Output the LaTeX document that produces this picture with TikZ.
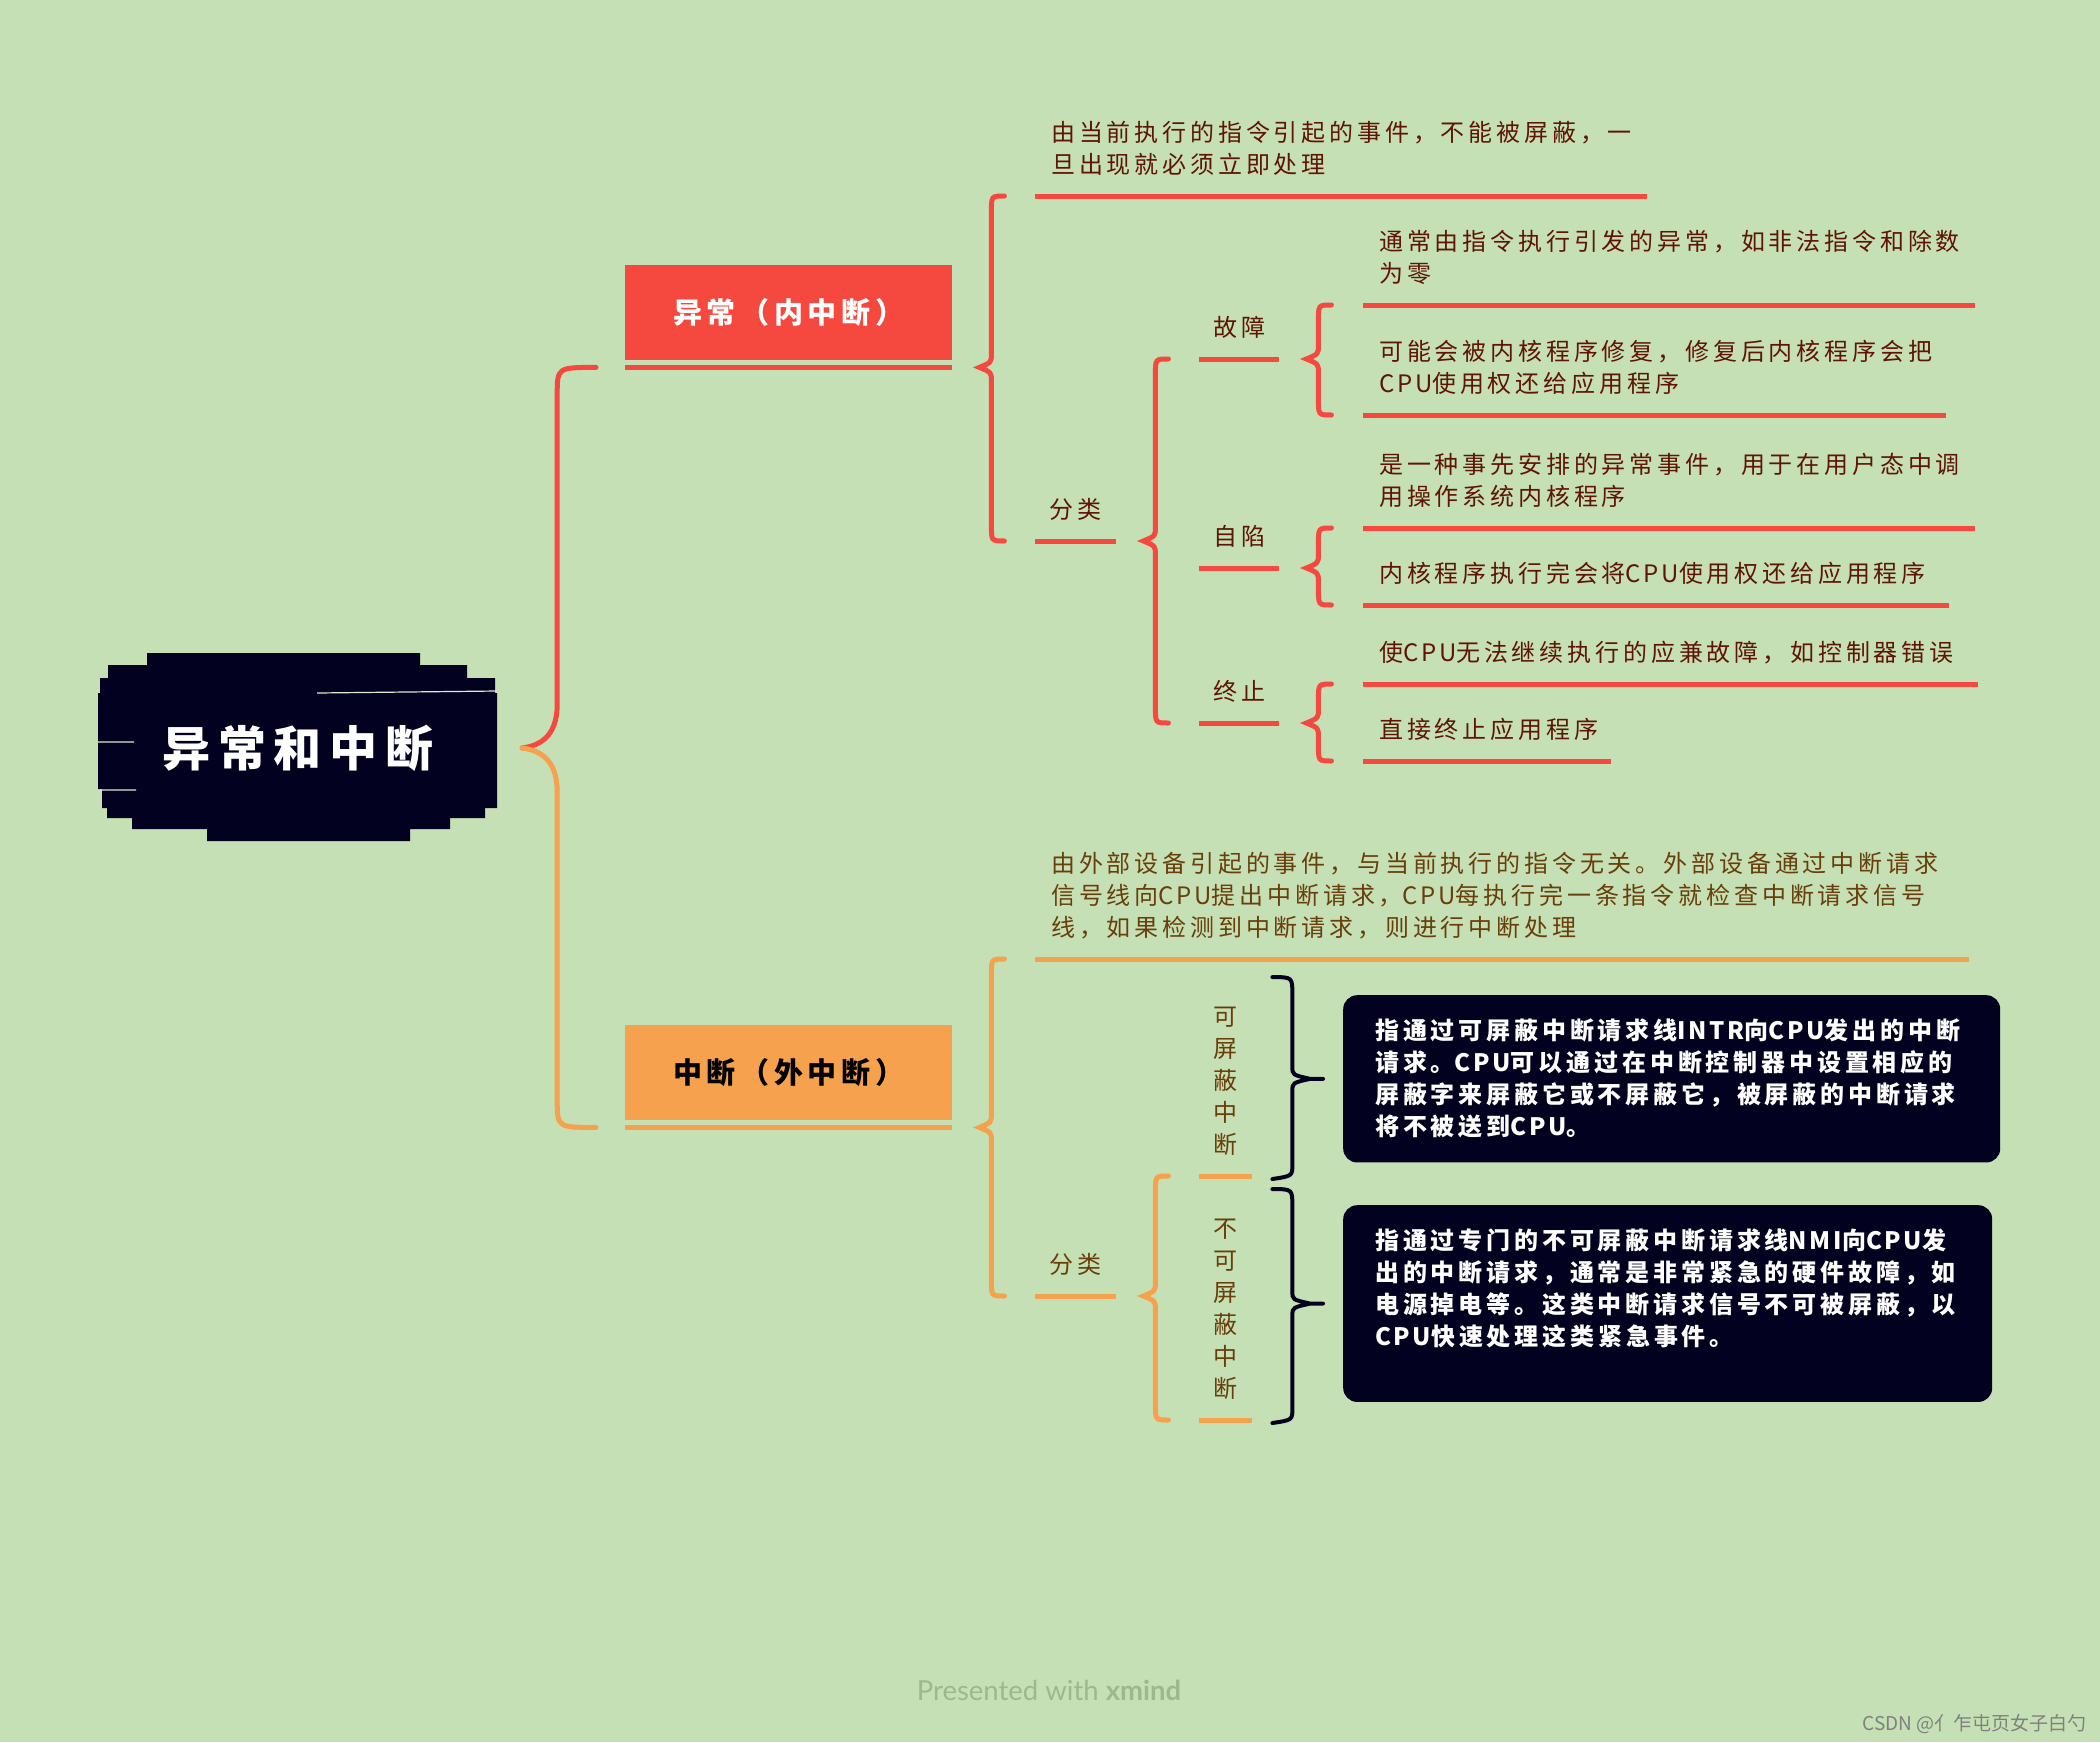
\documentclass[tikz,border=0pt]{standalone}
\usepackage{fontspec}
\usepackage{tikz}
\usetikzlibrary{calc}

\newfontfamily\cjkplain{Noto Sans CJK SC}
\newfontfamily\cjkspaced[LetterSpace=16]{Noto Sans CJK SC}
\newfontfamily\cjklatin[LetterSpace=11]{Noto Sans CJK SC}
\newfontfamily\latofont{Lato}

\definecolor{bgc}{RGB}{197,224,180}
\definecolor{exred}{RGB}{245,72,62}
\definecolor{intorg}{RGB}{245,161,78}
\definecolor{navy}{RGB}{2,2,32}
\definecolor{redtext}{RGB}{95,20,5}
\definecolor{orgtext}{RGB}{105,62,10}
\definecolor{footc}{RGB}{158,184,142}

\newcommand{\descfont}{\cjkspaced\fontsize{24}{32}\selectfont}
\newcommand{\lat}[1]{{\cjklatin #1}}

% left brace from a parent underline end to its first and last child
\newcommand{\topicbrace}[4]{%
  \draw[#1] let \p1=($(#2)+(27,0)$), \p2=(#3.south west), \p3=(#4.south west),
      \n1={\x1+12pt}, \n2={\x1+25pt} in
    (\n2,\y2) .. controls (\n1,\y2) .. (\n1,\y2-16pt)
    -- (\n1,\y1+14pt) .. controls (\n1,\y1+5pt) .. (\p1)
    .. controls (\n1,\y1-5pt) .. (\n1,\y1-14pt)
    -- (\n1,\y3+16pt) .. controls (\n1,\y3) .. (\n2,\y3);}

% right brace from a vertical tag to its box
\newcommand{\boxbrace}[2]{%
  \draw[navline] let \p1=(#1.south east), \p2=(#1.north east), \p3=(#2.west),
      \n1={\x1+20pt}, \n2={\x1+40pt}, \n3={\x3-33pt} in
    (\n1,\y2+10pt) .. controls (\n2,\y2+10pt) .. (\n2,\y2-8pt)
    -- (\n2,\y3+12pt) .. controls (\n2,\y3+4pt) .. (\n3,\y3) -- (\x3-20pt,\y3)
    (\n3,\y3) .. controls (\n2,\y3-4pt) .. (\n2,\y3-12pt)
    -- (\n2,\y1+12pt) .. controls (\n2,\y1) .. (\n1,\y1-3pt);}

\tikzset{
  redline/.style={line width=5pt, draw=exred, line cap=round},
  orgline/.style={line width=5pt, draw=intorg, line cap=round},
  navline/.style={line width=4pt, draw=navy, line cap=round},
  ulred/.style={line width=5pt, draw=exred},
  ulorg/.style={line width=5pt, draw=intorg},
  maintopic/.style={anchor=north west, minimum width=327pt, minimum height=95pt,
    inner sep=0pt, font=\cjkspaced\bfseries\fontsize{29}{34}\selectfont},
  topic/.style={anchor=south west, text width=#1, inner xsep=16pt, inner ysep=20pt,
    align=left, font=\descfont},
  tag/.style={anchor=south west, minimum width=#1, inner xsep=0pt, inner ysep=20pt,
    align=center, font=\descfont},
  darkbox/.style={anchor=north west, text width=#1, fill=navy, rounded corners=14pt,
    inner xsep=32pt, inner ysep=24pt, align=left, text=white,
    font=\cjkspaced\bfseries\fontsize{24}{32}\selectfont},
}

\begin{document}
\begin{tikzpicture}[x=1pt, y=-1pt]
% canvas
\fill[bgc] (0,0) rectangle (2100,1742);
\useasboundingbox (0,0) rectangle (2100,1742);

% root
\fill[navy] (147,653) rectangle (420,667)
  (108,665) rectangle (467,680)
  (100,678) rectangle (495,695)
  (98,693) rectangle (497,789)
  (102,787) rectangle (497,808)
  (107,806) rectangle (485,818)
  (132,816) rectangle (450,829)
  (207,827) rectangle (410,841);
\draw[bgc!60!white, line width=1.2pt] (317,693) -- (497,691) (98,742) -- (134,742) (100,790) -- (136,790);
\node[font=\cjkspaced\bfseries\fontsize{48}{56}\selectfont, text=white,
  minimum width=400pt] (root) at (298,748) {异常和中断};

% main topics
\node[maintopic, fill=exred, text=white] (exc) at (625,265) {异常（内中断）};
\node[maintopic, fill=intorg, text=black] (irq) at (625,1025) {中断（外中断）};
\coordinate (exc-ul) at ($(exc.south east)+(0,7)$);
\coordinate (irq-ul) at ($(irq.south east)+(0,7)$);
\draw[ulred] ($(exc.south west)+(0,7)$) -- (exc-ul);
\draw[ulorg] ($(irq.south west)+(0,7)$) -- (irq-ul);

\draw[redline] let \p1=($(root.east)+(24,0)$), \p2=($(exc.south west)+(-29,7)$),
    \n1={\x1+35pt} in
  (\p1) .. controls (\x1+24pt,\y1+3pt) and (\n1,\y1+18pt) .. (\n1,\y1+44pt)
  -- (\n1,\y2-28pt) .. controls (\n1,\y2) .. (\p2);
\draw[orgline] let \p1=($(root.east)+(24,0)$), \p2=($(irq.south west)+(-29,7)$),
    \n1={\x1+35pt} in
  (\p1) .. controls (\x1+24pt,\y1-3pt) and (\n1,\y1-18pt) .. (\n1,\y1-44pt)
  -- (\n1,\y2+28pt) .. controls (\n1,\y2) .. (\p2);

% exception branch
\begin{scope}[nodes={text=redtext}]
\node[topic=580pt] (d1) at (1035,196) {由当前执行的指令引起的事件，不能被屏蔽，一\\旦出现就必须立即处理};
\node[tag=81pt] (cls1) at (1035,541) {分类};
\node[tag=80pt] (t1) at (1199,359) {故障};
\node[tag=80pt] (t2) at (1199,568) {自陷};
\node[tag=80pt] (t3) at (1199,723) {终止};
\node[topic=580pt] (c1) at (1363,305) {通常由指令执行引发的异常，如非法指令和除数\\为零};
\node[topic=551pt] (c2) at (1363,415) {可能会被内核程序修复，修复后内核程序会把\\\lat{CPU}使用权还给应用程序};
\node[topic=580pt] (c3) at (1363,528) {是一种事先安排的异常事件，用于在用户态中调\\用操作系统内核程序};
\node[topic=554pt] (c4) at (1363,605) {内核程序执行完会将\lat{CPU}使用权还给应用程序};
\node[topic=583pt] (c5) at (1363,684) {使\lat{CPU}无法继续执行的应兼故障，如控制器错误};
\node[topic=216pt] (c6) at (1363,761) {直接终止应用程序};
\end{scope}
\foreach \n in {d1,cls1,t1,t2,t3,c1,c2,c3,c4,c5,c6}
  \draw[ulred] (\n.south west) -- (\n.south east);

\topicbrace{redline}{exc-ul}{d1}{cls1}
\topicbrace{redline}{cls1.south east}{t1}{t3}
\topicbrace{redline}{t1.south east}{c1}{c2}
\topicbrace{redline}{t2.south east}{c3}{c4}
\topicbrace{redline}{t3.south east}{c5}{c6}

% interrupt branch
\begin{scope}[nodes={text=orgtext}]
\node[topic=902pt] (d2) at (1035,959) {由外部设备引起的事件，与当前执行的指令无关。外部设备通过中断请求\\信号线向\lat{CPU}提出中断请求，\lat{CPU}每执行完一条指令就检查中断请求信号\\线，如果检测到中断请求，则进行中断处理};
\node[tag=81pt] (cls2) at (1035,1296) {分类};
\node[tag=53pt] (v1) at (1199,1176) {可\\屏\\蔽\\中\\断};
\node[tag=53pt] (v2) at (1199,1420) {不\\可\\屏\\蔽\\中\\断};
\end{scope}
\foreach \n in {d2,cls2,v1,v2}
  \draw[ulorg] (\n.south west) -- (\n.south east);

\topicbrace{orgline}{irq-ul}{d2}{cls2}
\topicbrace{orgline}{cls2.south east}{v1}{v2}

\node[darkbox=593pt] (box1) at (1343,995) {指通过可屏蔽中断请求线\lat{INTR}向\lat{CPU}发出的中断\\请求。\lat{CPU}可以通过在中断控制器中设置相应的\\屏蔽字来屏蔽它或不屏蔽它，被屏蔽的中断请求\\将不被送到\lat{CPU}。};
\node[darkbox=585pt] (box2) at (1343,1205) {指通过专门的不可屏蔽中断请求线\lat{NMI}向\lat{CPU}发\\出的中断请求，通常是非常紧急的硬件故障，如\\电源掉电等。这类中断请求信号不可被屏蔽，以\\\lat{CPU}快速处理这类紧急事件。\\~};

\boxbrace{v1}{box1}
\boxbrace{v2}{box2}

% footer
\node[font=\latofont\fontsize{27.5}{32}\selectfont, text=footc] (foot) at (1049,1690) {Presented with \textbf{xmind}};
\node[font=\cjkplain\fontsize{19}{22}\selectfont, text=gray, anchor=east] (mark) at (2090,1724) {CSDN @亻乍屯页女子白勺};
\end{tikzpicture}
\end{document}
